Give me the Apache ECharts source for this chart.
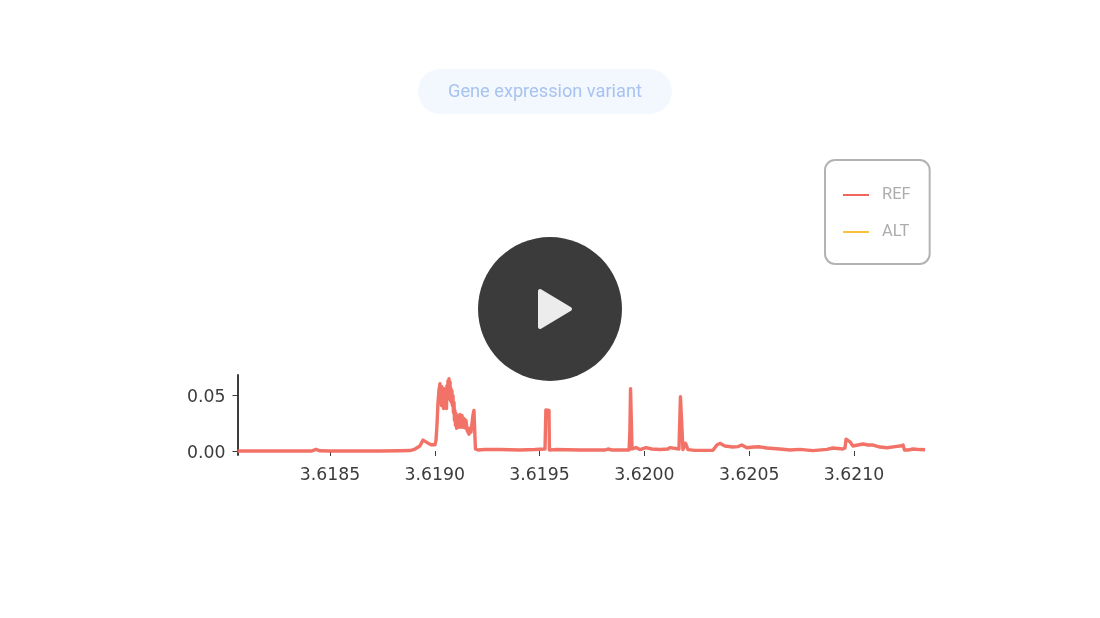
<!DOCTYPE html>
<html><head><meta charset="utf-8">
<style>html,body{margin:0;padding:0;background:#fff}#c{width:1100px;height:618px}</style>
<script src="https://cdn.jsdelivr.net/npm/echarts@6/dist/echarts.min.js"></script>
</head><body><div id="c"></div>
<script>
const titleText = 'Gene expression variant';
const seriesNames = ['REF', 'ALT'];
const xTicks = [3.6185, 3.619, 3.6195, 3.62, 3.6205, 3.621];
const yTicks = [0, 0.05];
const positions = [3.618059,3.618414,3.618433,3.618452,3.6185,3.618739,3.618834,3.618882,3.618906,3.618915,3.618929,3.618944,3.618953,3.618968,3.618982,3.619001,3.619006,3.619011,3.619015,3.61902,
3.619025,3.619027,3.61903,3.619032,3.619034,3.619037,3.619039,3.619042,3.619044,3.619046,3.619049,3.619051,3.619054,3.619056,3.619058,3.619061,3.619063,3.619065,3.619068,3.61907,3.619073,3.619075,3.619077,3.61908,3.619082,3.619084,3.619087,3.619089,3.619092,3.619094,3.619096,3.619099,3.619101,3.619104,3.619106,3.619108,3.619111,
3.619115,3.61912,3.619125,3.61913,3.619135,3.619139,3.619144,3.619149,3.619154,3.619158,3.619163,3.619168,3.619173,3.619177,3.619182,3.619187,3.619191,3.619194,3.619206,3.619239,3.619311,3.619406,3.619478,3.619526,3.61953,3.619545,3.619547,3.619573,3.619693,3.619812,3.619826,3.619845,3.619927,3.619931,3.619934,3.619938,3.619941,3.61996,3.619979,3.620008,3.620036,3.620074,3.620112,3.620122,3.620131,3.620165,3.620172,3.620177,3.620184,3.620191,3.620196,3.620203,3.620208,3.620241,3.620327,3.620346,3.62036,3.620384,3.620422,3.620446,3.620465,3.620489,3.620522,3.620551,3.620584,3.620646,3.620694,3.620742,3.620804,3.620871,3.620899,3.620947,3.620957,3.620962,3.620981,3.620995,3.621019,3.621043,3.621067,3.621091,3.621124,3.621158,3.621196,3.62122,3.621234,3.621241,3.621258,3.621282,3.621315,3.621339];
const refValues = [0,0,0.0015,0.0002,0,0,0.0002,0.0004,0.0018,0.0031,0.0045,0.0098,0.0098,0.0071,0.0056,0.0056,0.0098,0.025,0.042,0.055,
.0607,.0455,.0527,.0411,.058,.0429,.05,.0384,.0563,.042,.0491,.0438,.0545,.0384,.0589,.0473,.0634,.0527,.0652,.05,.0625,.0455,.0563,.0438,.0545,.0411,.05,.0348,.0438,.0277,.0366,.0232,.0339,.0205,.0321,.0215,.0313,
.0215,.033,.0215,.0321,.0215,.0295,.021,.0277,.019,.0188,.0152,.0205,.017,.0241,.0321,.0366,.0366,.0018,.0009,.0013,.0013,.0009,.0013,.0018,.0371,.0366,.0009,.0013,.0009,.0009,.0018,.0009,.0009,.0188,.0563,.0563,.0018,.0031,.0013,.0031,.0018,.0013,.0018,.0031,.0013,.0018,.0491,.0491,.0013,.0009,.0071,.0071,.0013,.0006,.0006,.0054,.0069,.0045,.0036,.004,.0054,.0029,.0036,.0038,.0027,.0018,.0009,.0015,.0003,.0015,.0027,.0018,.0027,.0107,.0083,.0045,.0054,.0063,.0054,.0054,.0036,.0029,.004,.0045,.0054,.0009,.0009,.0018,.0013,.0012];
const altValues = [];
const chart = echarts.init(document.getElementById('c'), null, {renderer:'canvas'});
const red = '#f1665a', yellow = '#f9c13c', ink = '#3c3c3c';
const xMin = 3.618059, xMax = 3.621353;
const tickFont = {color:ink,fontSize:17.3,fontFamily:'DejaVu Sans'};
chart.setOption({
  animation:false,
  backgroundColor:'#ffffff',
  title:{text:titleText,left:418,top:69,padding:[13.5,30,11.5,30],backgroundColor:'#f3f7fe',borderRadius:23,
    textStyle:{color:'#a7c3f0',fontSize:18.2,fontWeight:'normal',fontFamily:'Roboto',lineHeight:20}},
  legend:{orient:'vertical',left:825,top:160,padding:[26.5,19,23.5,18],itemGap:20,itemWidth:26,itemHeight:2,
    borderColor:'#b3b3b3',borderWidth:2,borderRadius:10,backgroundColor:'#fff',icon:'rect',
    textStyle:{color:'#adadad',fontSize:16.5,fontFamily:'Roboto',padding:[0,0,5,8]},data:seriesNames},
  grid:{left:237.5,top:375,width:690.5,height:80},
  xAxis:{type:'value',min:xMin,max:xMax,
    axisLine:{show:false},splitLine:{show:false},
    axisTick:{show:true,length:5,customValues:xTicks,lineStyle:{color:ink,width:1}},
    axisLabel:{show:true,margin:12,customValues:xTicks,formatter:v=>v.toFixed(4),...tickFont}},
  yAxis:{type:'value',min:-0.0036,max:0.0686,
    axisLine:{show:true,onZero:false,lineStyle:{color:ink,width:2}},
    splitLine:{show:false},
    axisTick:{show:true,length:5,customValues:yTicks,lineStyle:{color:ink,width:1}},
    axisLabel:{show:true,margin:12,customValues:yTicks,formatter:v=>'{a|'+v.toFixed(2)+'}',
      rich:{a:{...tickFont,padding:[4,0,0,0]}},...tickFont}},
  series:[
    {name:seriesNames[0],type:'line',showSymbol:false,symbol:'none',data:positions.map((p,i)=>[p,refValues[i]]),
     lineStyle:{color:red,width:3.4,opacity:.92,join:'round'},itemStyle:{color:red},z:3},
    {name:seriesNames[1],type:'line',showSymbol:false,symbol:'none',data:altValues,lineStyle:{color:yellow,width:2},itemStyle:{color:yellow}}
  ],
  graphic:[
    {type:'circle',z:100,shape:{cx:550,cy:309,r:72},style:{fill:'#3b3b3b'}},
    {type:'polygon',z:101,shape:{points:[[540,291],[570,309],[540,327]]},style:{fill:'#ececec',stroke:'#ececec',lineWidth:4,lineJoin:'round'}}
  ]
});
</script></body></html>
